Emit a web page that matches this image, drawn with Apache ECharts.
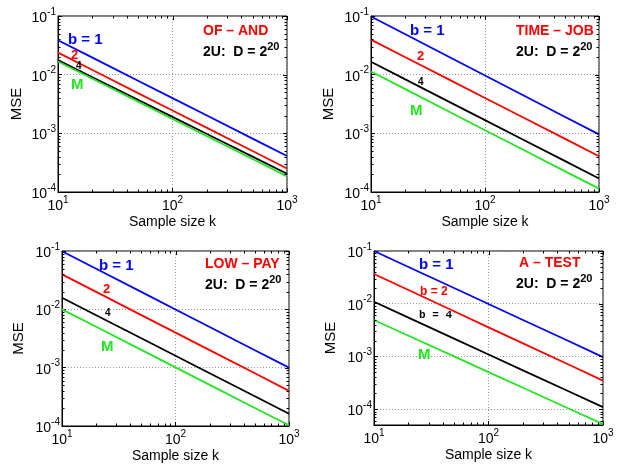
<!DOCTYPE html>
<html><head><meta charset="utf-8">
<script src="https://cdn.jsdelivr.net/npm/echarts@6/dist/echarts.min.js"></script>
<style>html,body{margin:0;padding:0;background:#fff}#c{width:624px;height:465px}</style>
</head><body><div id="c"></div>
<script>
// ---- data ----
const sampleSizes = [10, 20, 50, 100, 200, 500, 1000];

const ofAnd_b1 = [0.0386, 0.0195, 0.00789, 0.00398, 0.00201, 0.000813, 0.00041];
const ofAnd_b2 = [0.0238, 0.0120, 0.00485, 0.00245, 0.00124, 0.000499, 0.000252];
const ofAnd_b4 = [0.0177, 0.00905, 0.00372, 0.00191, 0.000975, 0.000401, 0.000205];
const ofAnd_M  = [0.0168, 0.00851, 0.00347, 0.00176, 0.000894, 0.000365, 0.000185];

const timeJob_b1 = [0.098, 0.0489, 0.01945, 0.0097, 0.00483, 0.00192, 0.00096];
const timeJob_b2 = [0.0395, 0.01985, 0.0080, 0.00401, 0.00201, 0.000811, 0.000407];
const timeJob_b4 = [0.0166, 0.00832, 0.00334, 0.00168, 0.000843, 0.000339, 0.00017];
const timeJob_M  = [0.0113, 0.00566, 0.00226, 0.00113, 0.000569, 0.000227, 0.000114];

const lowPay_b1 = [0.099, 0.0497, 0.0199, 0.00995, 0.00498, 0.00199, 0.001];
const lowPay_b2 = [0.0398, 0.0199, 0.00797, 0.00399, 0.0020, 0.0008, 0.0004];
const lowPay_b4 = [0.0158, 0.00794, 0.00319, 0.0016, 0.000804, 0.000323, 0.000162];
const lowPay_M  = [0.0100, 0.00502, 0.00202, 0.00101, 0.000507, 0.000204, 0.000103];

const aTest_b1 = [0.100, 0.0497, 0.0199, 0.00988, 0.00491, 0.00196, 0.00097];
const aTest_b2 = [0.0366, 0.01816, 0.00718, 0.00356, 0.00177, 0.000701, 0.000347];
const aTest_b4 = [0.0109, 0.00545, 0.00218, 0.00109, 0.000545, 0.000218, 0.000109];
const aTest_M  = [0.0049, 0.00247, 0.0010, 0.000504, 0.000255, 0.000103, 0.000052];

const panelTitles = ['OF \u2013 AND', 'TIME \u2013 JOB', 'LOW \u2013 PAY', 'A \u2013 TEST'];
const panelSeries = [
  [ofAnd_b1, ofAnd_b2, ofAnd_b4, ofAnd_M],
  [timeJob_b1, timeJob_b2, timeJob_b4, timeJob_M],
  [lowPay_b1, lowPay_b2, lowPay_b4, lowPay_M],
  [aTest_b1, aTest_b2, aTest_b4, aTest_M]
];
const xMin = 10, xMax = 1000;
const yMins = [1e-4, 1e-4, 1e-4, 5e-5];
const yMax = 1e-1;
const xTickValues = [10,20,30,40,50,60,70,80,90,100,200,300,400,500,600,700,800,900,1000];
const yTickValues = [3e-5,4e-5,5e-5,6e-5,7e-5,8e-5,9e-5,1e-4,2e-4,3e-4,4e-4,5e-4,6e-4,7e-4,8e-4,9e-4,
  1e-3,2e-3,3e-3,4e-3,5e-3,6e-3,7e-3,8e-3,9e-3,1e-2,2e-2,3e-2,4e-2,5e-2,6e-2,7e-2,8e-2,9e-2,1e-1];

// ---- styling ----
const FONT = 'Liberation Sans, Arial, Helvetica, sans-serif';
const colors = ['#0000ff', '#ff0000', '#000000', '#22e622'];
const grids = [
  {left: 58, top: 16, width: 229, height: 176},
  {left: 371, top: 16, width: 228, height: 176},
  {left: 62, top: 251, width: 227, height: 175},
  {left: 374, top: 251, width: 229, height: 174}
];
const yNameGaps = [34, 35, 36, 36];

function isPow10(v) {
  const l = Math.log10(v);
  return Math.abs(l - Math.round(l)) < 1e-6;
}
function powLabel(v) {
  if (!isPow10(v)) return '';
  return '{b|10}{e|' + Math.round(Math.log10(v)) + '}';
}
const labelRich = {
  b: {fontSize: 14, fontFamily: FONT, color: '#000', verticalAlign: 'bottom'},
  e: {fontSize: 10, fontFamily: FONT, color: '#000', verticalAlign: 'bottom', padding: [0, 0, 8, 0]}
};

const option = {
  animation: false,
  backgroundColor: '#fff',
  grid: grids.map(g => Object.assign({show: true, borderColor: '#000', borderWidth: 1, backgroundColor: '#fff'}, g)),
  xAxis: grids.map((g, i) => ({
    type: 'log', logBase: 10, gridIndex: i, min: xMin, max: xMax,
    name: 'Sample size k', nameLocation: 'middle', nameGap: 23,
    nameTextStyle: {fontSize: 14, fontFamily: FONT, color: '#000'},
    axisLine: {lineStyle: {color: '#000', width: 1}},
    axisTick: {inside: true, length: 4, lineStyle: {color: '#000'}},
    axisLabel: {margin: 3, formatter: powLabel, rich: labelRich, color: '#000'},
    splitLine: {show: true, lineStyle: {color: '#999', type: [1, 2], width: 1}}
  })),
  yAxis: grids.map((g, i) => ({
    type: 'log', logBase: 10, gridIndex: i, min: yMins[i], max: yMax,
    name: 'MSE', nameLocation: 'middle', nameGap: yNameGaps[i],
    nameTextStyle: {fontSize: 15, fontFamily: FONT, color: '#000'},
    axisLine: {lineStyle: {color: '#000', width: 1}},
    axisTick: {inside: true, length: 4, lineStyle: {color: '#000'}},
    axisLabel: {margin: 2, formatter: powLabel, rich: labelRich, color: '#000'},
    splitLine: {show: true, lineStyle: {color: '#999', type: [1, 2], width: 1}}
  })),
  series: [],
  graphic: []
};

panelSeries.forEach((set, p) => {
  set.forEach((vals, s) => {
    option.series.push({
      type: 'line', xAxisIndex: p, yAxisIndex: p, showSymbol: false, symbol: 'none',
      lineStyle: {color: colors[s], width: 1.8}, itemStyle: {color: colors[s]},
      data: sampleSizes.map((x, k) => [x, vals[k]]), z: 3, silent: true
    });
  });
  // x ticks on top (major+minor) and bottom (minor)
  option.series.push({
    type: 'custom', xAxisIndex: p, yAxisIndex: p, silent: true, clip: false, z: 4,
    data: xTickValues.map(v => [v, 1e-2]),
    renderItem: function (params, api) {
      const v = api.value(0);
      const cs = params.coordSys;
      const px = Math.round(api.coord([v, api.value(1)])[0]) + 0.5;
      const major = isPow10(v);
      const len = major ? 4 : 2.5;
      const ch = [{type: 'line', shape: {x1: px, y1: cs.y, x2: px, y2: cs.y + len}, style: {stroke: '#000', lineWidth: 1}}];
      if (!major) ch.push({type: 'line', shape: {x1: px, y1: cs.y + cs.height, x2: px, y2: cs.y + cs.height - len}, style: {stroke: '#000', lineWidth: 1}});
      return {type: 'group', children: ch};
    }
  });
  // y ticks on right (major+minor) and left (minor)
  option.series.push({
    type: 'custom', xAxisIndex: p, yAxisIndex: p, silent: true, clip: false, z: 4,
    data: yTickValues.filter(v => v >= yMins[p] * 0.999 && v <= yMax * 1.001).map(v => [100, v]),
    renderItem: function (params, api) {
      const v = api.value(1);
      const cs = params.coordSys;
      const py = Math.round(api.coord([api.value(0), v])[1]) + 0.5;
      const major = isPow10(v);
      const len = major ? 4 : 2.5;
      const ch = [{type: 'line', shape: {x1: cs.x + cs.width, y1: py, x2: cs.x + cs.width - len, y2: py}, style: {stroke: '#000', lineWidth: 1}}];
      if (!major) ch.push({type: 'line', shape: {x1: cs.x, y1: py, x2: cs.x + len, y2: py}, style: {stroke: '#000', lineWidth: 1}});
      return {type: 'group', children: ch};
    }
  });
});

// ---- annotations ----
function txt(x, y, text, fill, size, weight, family) {
  return {type: 'text', x: x, y: y, z: 10, silent: true,
    style: {text: text, fill: fill, font: (weight || 'bold') + ' ' + size + 'px ' + (family || FONT), verticalAlign: 'middle', align: 'left'}};
}
function dLabel(x, y) {
  return {type: 'text', x: x, y: y, z: 10, silent: true,
    style: {text: '{a|2U:  D = 2}{s|20}', verticalAlign: 'middle', align: 'left',
      rich: {
        a: {fontSize: 14, fontWeight: 'bold', fontFamily: FONT, fill: '#000', verticalAlign: 'bottom'},
        s: {fontSize: 11, fontWeight: 'bold', fontFamily: FONT, fill: '#000', verticalAlign: 'bottom', padding: [0, 0, 7, 0]}
      }}};
}
const titlePos = [[203, 31], [516, 31], [205, 264], [519, 263]];
const dPos = [[203, 50], [516, 50], [205, 283], [516, 282]];
titlePos.forEach((pt, i) => option.graphic.push(txt(pt[0], pt[1], panelTitles[i], '#ff0000', 14)));
dPos.forEach(pt => option.graphic.push(dLabel(pt[0], pt[1])));

// panel 1
option.graphic.push(txt(68, 40, 'b = 1', colors[0], 15));
option.graphic.push(txt(71, 55, '2', colors[1], 13));
option.graphic.push(txt(76, 66, '4', colors[2], 10));
option.graphic.push(txt(71, 85, 'M', colors[3], 15));
// panel 2
option.graphic.push(txt(410, 31, 'b = 1', colors[0], 15));
option.graphic.push(txt(417, 56, '2', colors[1], 13));
option.graphic.push(txt(418, 82, '4', colors[2], 10));
option.graphic.push(txt(410, 111, 'M', colors[3], 15));
// panel 3
option.graphic.push(txt(99, 266, 'b = 1', colors[0], 15));
option.graphic.push(txt(103, 289, '2', colors[1], 13));
option.graphic.push(txt(105, 313, '4', colors[2], 10));
option.graphic.push(txt(101, 347, 'M', colors[3], 15));
// panel 4
option.graphic.push(txt(419, 265, 'b = 1', colors[0], 15));
option.graphic.push(txt(420, 292, 'b = 2', colors[1], 12));
option.graphic.push(txt(419, 315, 'b = 4', colors[2], 11, 'bold', 'Liberation Mono, Courier New, monospace'));
option.graphic.push(txt(418, 355, 'M', colors[3], 15));

const chart = echarts.init(document.getElementById('c'), null, {renderer: 'canvas'});
chart.setOption(option);
</script>
</body></html>
